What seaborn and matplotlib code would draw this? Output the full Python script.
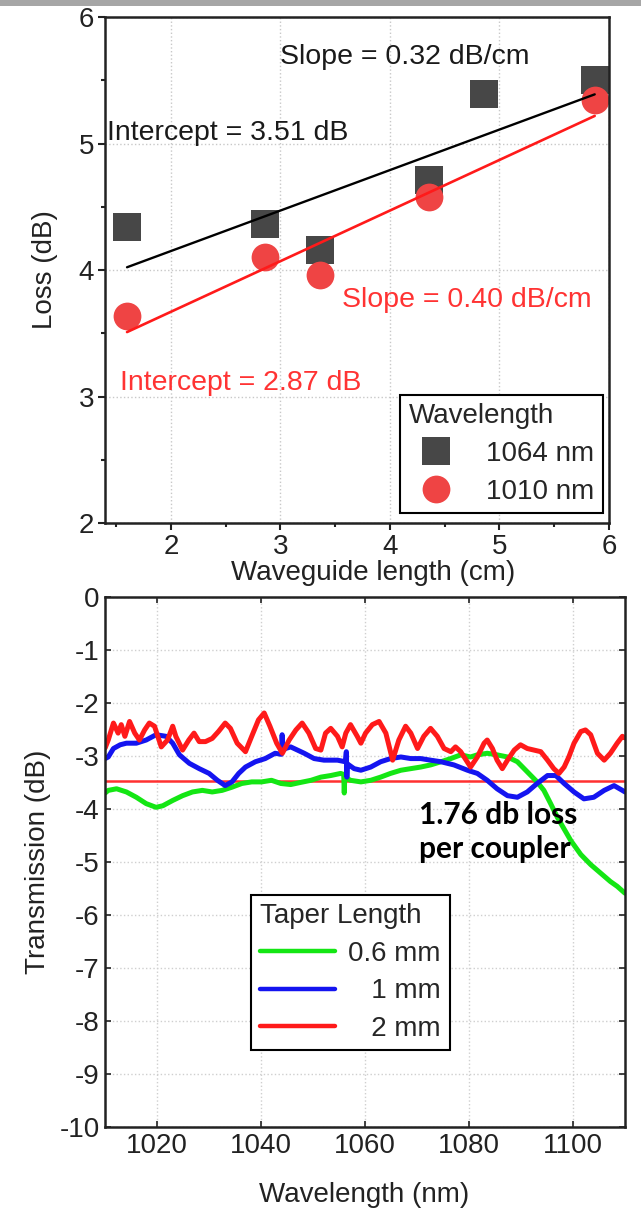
import numpy as np
import pandas as pd
import matplotlib
matplotlib.use("Agg")
import matplotlib.pyplot as plt
import seaborn as sns
from matplotlib.lines import Line2D
from matplotlib.patches import Rectangle
from matplotlib.ticker import MultipleLocator

# ---------------- data: top panel (loss vs waveguide length) ----------------
length_1064 = [1.60, 2.86, 3.36, 4.36, 4.86, 5.87]
loss_1064 = [4.34, 4.36, 4.16, 4.71, 5.39, 5.50]
length_1010 = [1.60, 2.86, 3.36, 4.36, 5.87]
loss_1010 = [3.64, 4.10, 3.96, 4.58, 5.34]
fit_slope = {"1064 nm": 0.32, "1010 nm": 0.40}
fit_intercept = {"1064 nm": 3.51, "1010 nm": 2.87}
fit_range = [1.60, 5.87]
wavelength_labels = ["1064 nm", "1010 nm"]

# ---------------- data: bottom panel (transmission spectra) ----------------
wl_2mm = [1010.0, 1010.6, 1011.6, 1012.5, 1013.1, 1013.8, 1014.7, 1015.7, 1016.6, 1017.6,
          1018.5, 1019.5, 1020.8, 1022.0, 1023.0, 1023.6, 1024.9, 1026.1, 1027.1, 1028.1,
          1029.3, 1030.6, 1031.8, 1033.1, 1034.1, 1035.4, 1037.0, 1038.2, 1039.5, 1040.6,
          1041.7, 1043.0, 1044.1, 1045.4, 1046.7, 1047.9, 1049.2, 1050.5, 1051.5, 1052.4,
          1053.4, 1054.7, 1055.6, 1056.3, 1057.2, 1058.5, 1059.2, 1060.1, 1061.4, 1062.7,
          1064.0, 1065.3, 1066.5, 1067.8, 1068.8, 1070.1, 1071.3, 1072.6, 1073.9, 1075.2,
          1076.5, 1077.4, 1078.4, 1080.3, 1081.6, 1082.9, 1083.5, 1084.5, 1085.4, 1086.4,
          1087.4, 1088.7, 1089.9, 1091.2, 1092.5, 1093.8, 1095.1, 1096.3, 1097.3, 1098.3,
          1099.2, 1100.2, 1101.5, 1102.4, 1103.4, 1104.7, 1106.0, 1107.2, 1108.5, 1109.5,
          1110.0]
tr_2mm = [-2.85, -2.70, -2.38, -2.57, -2.41, -2.63, -2.35, -2.57, -2.70, -2.51,
          -2.38, -2.44, -2.83, -2.70, -2.44, -2.63, -2.89, -2.70, -2.57, -2.73,
          -2.73, -2.67, -2.54, -2.38, -2.48, -2.76, -2.92, -2.63, -2.32, -2.19,
          -2.44, -2.76, -2.95, -2.70, -2.51, -2.38, -2.57, -2.86, -2.89, -2.57,
          -2.48, -2.63, -2.83, -2.57, -2.41, -2.63, -2.76, -2.57, -2.41, -2.35,
          -2.57, -3.08, -2.70, -2.44, -2.57, -2.86, -2.63, -2.48, -2.63, -2.86,
          -2.92, -2.83, -2.92, -3.21, -3.02, -2.76, -2.70, -2.86, -3.08, -3.24,
          -3.08, -2.89, -2.79, -2.86, -2.89, -2.92, -3.08, -3.24, -3.33, -3.21,
          -3.02, -2.76, -2.54, -2.51, -2.60, -2.95, -3.08, -2.95, -2.76, -2.63,
          -2.66]

wl_1mm = [1010.0, 1010.6, 1011.6, 1012.9, 1014.1, 1016.0, 1017.9, 1019.8, 1021.7, 1023.0,
          1024.3, 1026.2, 1028.1, 1030.0, 1031.6, 1033.1, 1034.4, 1035.7, 1037.0, 1038.9,
          1040.8, 1042.7, 1043.9, 1044.05, 1044.2, 1044.7, 1045.7, 1047.0, 1048.3, 1050.2,
          1052.1, 1054.7, 1056.2, 1056.4, 1056.5, 1056.6, 1057.9, 1059.2, 1061.1, 1063.0,
          1064.9, 1066.9, 1068.8, 1070.7, 1072.6, 1074.6, 1077.1, 1079.7, 1081.6, 1083.5,
          1085.4, 1087.4, 1089.3, 1091.2, 1093.1, 1095.1, 1096.7, 1098.3, 1100.2, 1102.1,
          1104.0, 1106.0, 1107.9, 1109.5, 1110.0]
tr_1mm = [-3.05, -3.02, -2.86, -2.79, -2.76, -2.76, -2.70, -2.60, -2.63, -2.76,
          -2.98, -3.14, -3.24, -3.33, -3.46, -3.56, -3.49, -3.33, -3.21, -3.11,
          -3.05, -2.95, -2.97, -2.60, -2.90, -2.86, -2.83, -2.89, -2.95, -3.05,
          -3.08, -3.08, -3.11, -2.92, -3.40, -3.15, -3.24, -3.27, -3.21, -3.11,
          -3.05, -3.02, -3.05, -3.05, -3.08, -3.11, -3.17, -3.27, -3.33, -3.46,
          -3.62, -3.75, -3.78, -3.68, -3.52, -3.37, -3.37, -3.52, -3.68, -3.81,
          -3.78, -3.65, -3.56, -3.65, -3.68]

wl_06mm = [1010.0, 1010.6, 1012.2, 1014.1, 1016.0, 1017.9, 1019.8, 1021.1, 1023.0, 1024.9,
           1026.8, 1028.7, 1030.6, 1032.5, 1034.4, 1036.3, 1038.2, 1040.1, 1042.0, 1043.8,
           1045.7, 1047.6, 1049.6, 1051.5, 1053.4, 1055.3, 1055.9, 1056.0, 1056.1, 1057.2,
           1059.2, 1061.1, 1063.0, 1064.9, 1066.9, 1068.8, 1070.7, 1072.6, 1074.6, 1076.5,
           1078.4, 1080.3, 1081.6, 1083.5, 1085.4, 1087.4, 1089.3, 1091.2, 1093.1, 1094.4,
           1095.7, 1097.0, 1098.3, 1099.6, 1101.5, 1103.4, 1105.3, 1107.2, 1108.5, 1110.0]
tr_06mm = [-3.70, -3.65, -3.62, -3.68, -3.78, -3.90, -3.97, -3.94, -3.84, -3.75,
           -3.68, -3.65, -3.68, -3.65, -3.59, -3.52, -3.49, -3.49, -3.46, -3.52,
           -3.54, -3.50, -3.46, -3.40, -3.37, -3.33, -3.35, -3.70, -3.40, -3.46,
           -3.49, -3.46, -3.40, -3.33, -3.27, -3.24, -3.21, -3.17, -3.11, -3.05,
           -2.98, -3.02, -2.98, -2.95, -2.98, -3.02, -3.11, -3.30, -3.49, -3.65,
           -3.90, -4.16, -4.38, -4.60, -4.86, -5.05, -5.21, -5.37, -5.46, -5.59]

coupler_ref_level = -3.47
taper_labels = ["0.6 mm", "1 mm", "2 mm"]
legend_labels = ["0.6 mm", "   1 mm", "   2 mm"]
taper_colors = {"0.6 mm": "#14e614", "1 mm": "#1414f0", "2 mm": "#ff1a1a"}

x_ticks_bottom = [1020, 1040, 1060, 1080, 1100]
y_ticks_bottom = [0, -1, -2, -3, -4, -5, -6, -7, -8, -9, -10]

# ---------------- style ----------------
sns.set_theme(style="white")
plt.rcParams["font.family"] = ["Liberation Sans", "DejaVu Sans"]
plt.rcParams["axes.unicode_minus"] = False

FS = 20
fig = plt.figure(figsize=(6.41, 12.11), dpi=100)
fig.add_artist(Rectangle((0, 1 - 6 / 1211), 1, 6 / 1211, transform=fig.transFigure,
                         facecolor="#a6a6a6", edgecolor="none"))

ax1 = fig.add_axes([0.164, 0.568, 0.786, 0.418])
ax2 = fig.add_axes([0.164, 0.0694, 0.811, 0.4377])

for ax in (ax1, ax2):
    for sp in ax.spines.values():
        sp.set_color("#222222")
        sp.set_linewidth(1.8)
    ax.set_facecolor("white")

# ---------------- top panel ----------------
c_sq = "#474747"
c_ci = "#ef4444"
sns.scatterplot(x=length_1064, y=loss_1064, marker="s", s=380, color=c_sq,
                linewidth=0, ax=ax1, zorder=2, legend=False)
sns.scatterplot(x=length_1010, y=loss_1010, marker="o", s=400, color=c_ci,
                linewidth=0, ax=ax1, zorder=2, legend=False)

xr = np.array(fit_range)
sns.lineplot(x=xr, y=fit_intercept["1064 nm"] + fit_slope["1064 nm"] * xr,
             color="black", lw=1.7, ax=ax1, zorder=3)
sns.lineplot(x=xr, y=fit_intercept["1010 nm"] + fit_slope["1010 nm"] * xr,
             color="#ff1a1a", lw=1.9, ax=ax1, zorder=3)

ax1.set_xlim(1.4, 6.0)
ax1.set_ylim(2, 6)
ax1.set_xticks([2, 3, 4, 5, 6])
ax1.set_yticks([2, 3, 4, 5, 6])
ax1.xaxis.set_minor_locator(MultipleLocator(0.5))
ax1.yaxis.set_minor_locator(MultipleLocator(0.5))
ax1.tick_params(which="major", direction="out", length=5, width=1.5,
                labelsize=FS, pad=3, colors="#222222", bottom=True, left=True)
ax1.tick_params(which="minor", direction="out", length=3, width=1.5,
                bottom=True, left=True, colors="#222222")
ax1.grid(True, which="major", color="#c8c8c8", linestyle=":", linewidth=1.0)

ax1.text(3.0, 5.68, f"Slope = {fit_slope['1064 nm']:.2f} dB/cm", fontsize=20.5,
         va="center", color="#1a1a1a")
ax1.text(1.42, 5.08, f"Intercept = {fit_intercept['1064 nm']:.2f} dB", fontsize=20.5,
         va="center", color="#1a1a1a")
ax1.text(3.56, 3.76, f"Slope = {fit_slope['1010 nm']:.2f} dB/cm", fontsize=20.5,
         va="center", color="#ff3333")
ax1.text(1.54, 3.11, f"Intercept = {fit_intercept['1010 nm']:.2f} dB", fontsize=20.5,
         va="center", color="#ff3333")

ax1.set_xlabel("Waveguide length (cm)", fontsize=FS, color="#222222")
ax1.set_ylabel("Loss (dB)", fontsize=FS, color="#222222")
ax1.xaxis.set_label_coords(0.532, -0.099)
ax1.xaxis.label.set_va("center")
ax1.yaxis.set_label_coords(-0.119, 0.5)
ax1.yaxis.label.set_va("center")

h_top = [Line2D([], [], marker="s", ls="none", markersize=19.5, color=c_sq, mew=0),
         Line2D([], [], marker="o", ls="none", markersize=20, color=c_ci, mew=0)]
leg1 = ax1.legend(h_top, wavelength_labels, title="Wavelength", loc="lower right",
                  bbox_to_anchor=(0.988, 0.02), fontsize=FS, title_fontsize=FS,
                  frameon=True, fancybox=False, edgecolor="black", framealpha=1,
                  borderpad=0.3, handlelength=2.0, handletextpad=0.8,
                  labelspacing=0.42, borderaxespad=0)
leg1.get_frame().set_linewidth(1.5)
leg1._legend_box.align = "left"

# ---------------- bottom panel ----------------
frames = []
for lab, wl, tr in [("0.6 mm", wl_06mm, tr_06mm), ("1 mm", wl_1mm, tr_1mm),
                    ("2 mm", wl_2mm, tr_2mm)]:
    frames.append(pd.DataFrame({"Wavelength": wl, "Transmission": tr, "Taper": lab}))
spec = pd.concat(frames, ignore_index=True)

ax2.axhline(coupler_ref_level, color="#ff3030", lw=1.8, zorder=1.5)
sns.lineplot(data=spec, x="Wavelength", y="Transmission", hue="Taper",
             hue_order=taper_labels, palette=taper_colors, sort=False,
             estimator=None, lw=3.6, legend=False, ax=ax2, zorder=2)

ax2.set_xlim(1010, 1110)
ax2.set_ylim(-10, 0)
ax2.set_xticks(x_ticks_bottom)
ax2.set_yticks(y_ticks_bottom)
ax2.set_yticklabels([str(v) for v in y_ticks_bottom])
ax2.tick_params(which="major", direction="in", length=4, width=1.2, labelsize=FS,
                pad=4, colors="#222222", bottom=True, left=True, top=True, right=True)
ax2.grid(True, which="major", color="#cfcfcf", linestyle=":", linewidth=1.0)

ax2.text(1070.4, -3.85, "1.76 db loss\nper coupler", fontsize=21.5, fontweight="bold",
         family=["Lato", "DejaVu Sans"], va="top", ha="left", linespacing=1.28,
         color="black")

ax2.set_xlabel("Wavelength (nm)", fontsize=FS, color="#222222")
ax2.set_ylabel("Transmission (dB)", fontsize=FS, color="#222222")
ax2.xaxis.set_label_coords(0.498, -0.128)
ax2.xaxis.label.set_va("center")
ax2.yaxis.set_label_coords(-0.129, 0.5)
ax2.yaxis.label.set_va("center")

h_bot = [Line2D([], [], color=taper_colors[t], lw=3.2) for t in taper_labels]
leg2 = ax2.legend(h_bot, legend_labels, title="Taper Length", loc="upper left",
                  bbox_to_anchor=(0.281, 0.438), fontsize=FS, title_fontsize=FS,
                  frameon=True, fancybox=False, edgecolor="black", framealpha=1,
                  borderpad=0.3, handlelength=2.7, handletextpad=0.5,
                  labelspacing=0.42, borderaxespad=0)
leg2.get_frame().set_linewidth(1.5)
leg2._legend_box.align = "left"

fig.savefig("out.png", dpi=100)
